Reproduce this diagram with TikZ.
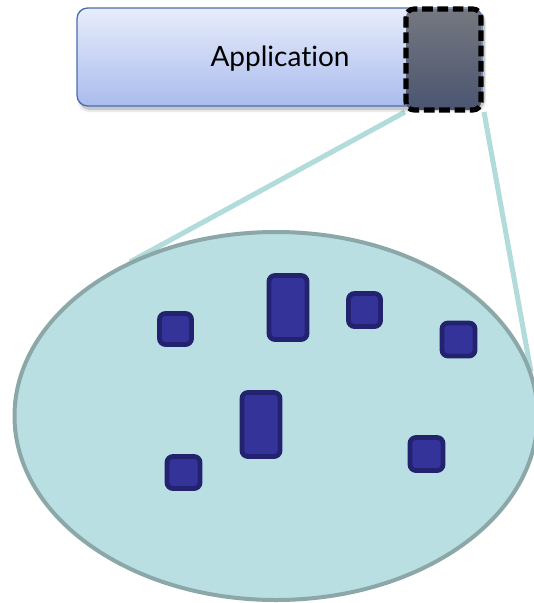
\documentclass[tikz,border=0pt]{standalone}
\usepackage{fontspec}
\setmainfont[Ligatures={NoCommon}]{Lato}
\usetikzlibrary{shapes.geometric,shadows}
\definecolor{appTop}{HTML}{E8EDFB}
\definecolor{appBot}{HTML}{AABCEE}
\definecolor{appBorder}{HTML}{4A6DB0}
\definecolor{darkTop}{HTML}{75787F}
\definecolor{darkBot}{HTML}{4B5571}
\definecolor{linkCol}{HTML}{B2DCDC}
\definecolor{ellFill}{HTML}{BADFE2}
\definecolor{ellBorder}{HTML}{8CA7A7}
\definecolor{blkFill}{HTML}{343399}
\definecolor{blkBorder}{HTML}{23226F}
\tikzset{
  blk/.style={draw=blkBorder, fill=blkFill, line width=3.6pt, rounded corners=4.5pt, inner sep=0pt},
  link/.style={draw=linkCol, line width=3.8pt},
}
\begin{document}
\begin{tikzpicture}[x=0.75pt,y=-0.75pt]
\useasboundingbox (0,0) rectangle (533,603);
% links
\coordinate (l1) at (405,112);
\coordinate (r1) at (484,112);
\coordinate (l2) at (130,262);
\coordinate (r2) at (531,372);
\draw[link] (l1) -- (l2);
\draw[link] (r1) -- (r2);
% ellipse
\node[ellipse, draw=ellBorder, fill=ellFill, line width=3pt, minimum width=523*0.75pt, minimum height=368*0.75pt, inner sep=0pt] (cloud) at (276,416) {};
% application box
\fill[black, opacity=0.15, rounded corners=8pt] (79,11) rectangle (485,110);
\fill[black, opacity=0.08, rounded corners=8pt] (78,10) rectangle (486,112);
\shade[top color=appTop, bottom color=appBot, draw=appBorder, line width=1pt, rounded corners=8pt] (77,8) rectangle (482,106);
\node[font=\fontsize{21}{23}\selectfont] (app) at (280,59) {Applicat\kern0pt ion};
% dark zoom box
\shade[top color=darkTop, bottom color=darkBot, rounded corners=6pt] (406,9) rectangle (481,110);
\draw[black, line width=3.8pt, dash pattern=on 8pt off 3.5pt, rounded corners=6pt] (406,9) rectangle (481,110);
% blocks
\node[blk, minimum width=32*0.75pt, minimum height=31*0.75pt] (b1) at (175.5,329) {};
\node[blk, minimum width=38*0.75pt, minimum height=64*0.75pt] (b2) at (288,307.5) {};
\node[blk, minimum width=32*0.75pt, minimum height=33*0.75pt] (b3) at (364.5,310) {};
\node[blk, minimum width=33*0.75pt, minimum height=33*0.75pt] (b4) at (458.5,339.5) {};
\node[blk, minimum width=38*0.75pt, minimum height=64*0.75pt] (b5) at (261,424.5) {};
\node[blk, minimum width=33*0.75pt, minimum height=33*0.75pt] (b6) at (426.5,454) {};
\node[blk, minimum width=33*0.75pt, minimum height=32*0.75pt] (b7) at (183.5,472.5) {};
\end{tikzpicture}
\end{document}
